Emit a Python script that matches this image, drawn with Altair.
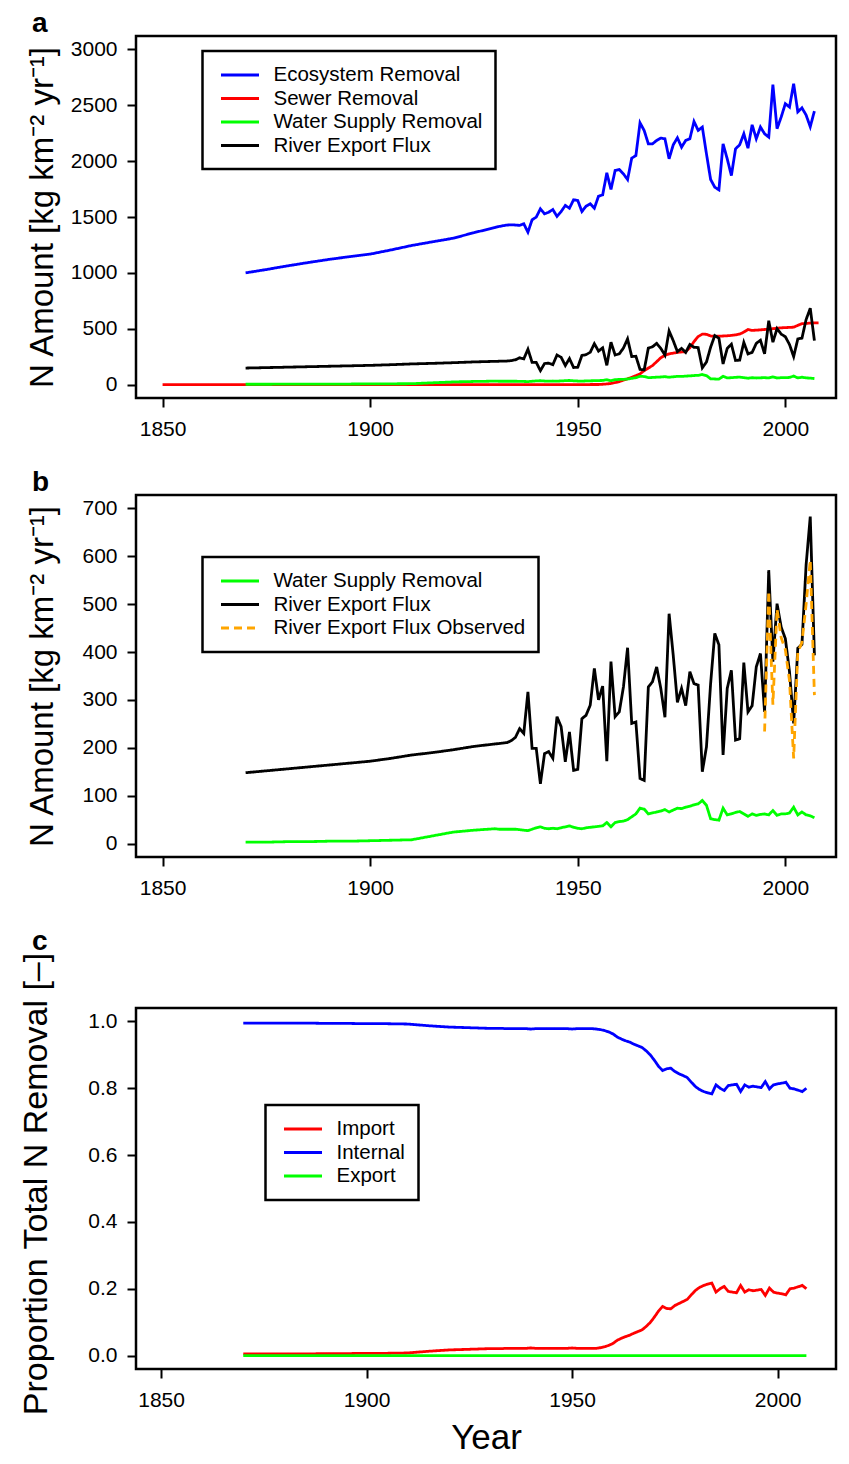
import altair as alt
import pandas as pd

# ---------------- data ----------------
early_years = [1870, 1875, 1880, 1885, 1890, 1895, 1900, 1905, 1910, 1915, 1920, 1925, 1930]
annual_years = list(range(1931, 2008))
yrs = early_years + annual_years

eco_removal = [1000, 1030, 1062, 1092, 1120, 1145, 1168, 1205, 1245, 1278, 1310, 1360, 1405,
               1415, 1422, 1428, 1430, 1428, 1425, 1439, 1364, 1475, 1499,
               1573, 1528, 1543, 1567, 1505, 1549, 1603, 1579, 1654, 1648,
               1549, 1597, 1618, 1579, 1686, 1698, 1895, 1746, 1916, 1925,
               1886, 1835, 2027, 2050, 2343, 2274, 2155, 2155, 2185, 2206,
               2200, 2021, 2146, 2209, 2125, 2185, 2200, 2355, 2275, 2305,
               2065, 1836, 1767, 1743, 2155, 2021, 1871, 2110, 2146, 2245,
               2116, 2325, 2200, 2305, 2245, 2215, 2684, 2290, 2395, 2514,
               2484, 2693, 2441, 2477, 2412, 2308, 2448]

river_export = [148, 152, 156, 160, 164, 168, 172, 178, 185, 190, 196, 203, 208,
                209, 210, 211, 215, 222, 240, 230, 317, 199, 199,
                125, 188, 192, 178, 265, 244, 171, 233, 153, 155,
                261, 268, 289, 366, 300, 329, 172, 380, 265, 275,
                327, 409, 251, 254, 136, 132, 327, 338, 369, 324,
                264, 480, 393, 295, 324, 288, 359, 334, 331, 150,
                202, 334, 439, 415, 185, 324, 362, 216, 219, 378,
                275, 288, 369, 397, 275, 571, 380, 501, 452, 428,
                359, 251, 408, 416, 582, 683, 393]

water_supply = [3, 3, 4, 4, 5, 5, 6, 7, 8, 16, 24, 28, 31,
                30, 30, 30, 30, 30, 29, 28, 27, 30, 33,
                35, 32, 31, 32, 31, 33, 35, 37, 34, 32,
                31, 33, 34, 35, 36, 37, 44, 35, 44, 46,
                47, 50, 56, 62, 74, 72, 62, 64, 66, 68,
                71, 66, 70, 74, 73, 76, 78, 81, 83, 90,
                80, 52, 50, 49, 74, 60, 62, 65, 67, 62,
                57, 62, 59, 61, 62, 60, 69, 59, 62, 62,
                64, 76, 60, 66, 60, 58, 54]

sewer_years = [1850, 1900, 1950, 1955] + list(range(1956, 2009))
sewer_removal = [0, 0, 0, 1, 3, 6, 10, 18, 27, 40, 52, 65, 80, 96,
                 125, 148, 170, 205, 240, 262, 275, 282, 288, 292,
                 295, 330, 385, 430, 452, 450, 435, 432, 433, 435,
                 437, 440, 445, 452, 470, 493, 485, 487, 490, 493,
                 497, 500, 505, 508, 510, 512, 514, 530, 545, 548,
                 550, 552, 553]

obs_years = list(range(1995, 2008))
river_observed = [234, 527, 290, 490, 430, 405, 340, 178, 400, 420, 500, 592, 310]

internal_frac = [0.995, 0.995, 0.995, 0.995, 0.994, 0.994, 0.993, 0.993, 0.992, 0.987, 0.983, 0.981, 0.979,
                 0.979, 0.979, 0.979, 0.978, 0.978, 0.978, 0.978, 0.978, 0.978, 0.977,
                 0.978, 0.978, 0.978, 0.978, 0.978, 0.978, 0.978, 0.978, 0.978, 0.977,
                 0.978, 0.978, 0.978, 0.978, 0.978, 0.977, 0.975, 0.972, 0.968, 0.962,
                 0.953, 0.947, 0.942, 0.938, 0.932, 0.927, 0.922, 0.912, 0.900, 0.884,
                 0.866, 0.853, 0.858, 0.860, 0.850, 0.843, 0.838, 0.832, 0.818, 0.805,
                 0.796, 0.790, 0.786, 0.783, 0.810, 0.800, 0.793, 0.808, 0.810, 0.812,
                 0.790, 0.810, 0.803, 0.806, 0.804, 0.802, 0.820, 0.798, 0.810, 0.813,
                 0.815, 0.818, 0.800, 0.798, 0.794, 0.790, 0.800]

import_frac = [0.005, 0.005, 0.005, 0.005, 0.006, 0.006, 0.007, 0.007, 0.008, 0.013, 0.017, 0.019, 0.021,
               0.021, 0.021, 0.021, 0.022, 0.022, 0.022, 0.022, 0.022, 0.022, 0.023,
               0.022, 0.022, 0.022, 0.022, 0.022, 0.022, 0.022, 0.022, 0.022, 0.023,
               0.022, 0.022, 0.022, 0.022, 0.022, 0.022, 0.024, 0.027, 0.031, 0.037,
               0.046, 0.052, 0.057, 0.061, 0.067, 0.072, 0.077, 0.087, 0.099, 0.115,
               0.133, 0.147, 0.141, 0.140, 0.150, 0.156, 0.162, 0.168, 0.182, 0.195,
               0.204, 0.210, 0.214, 0.217, 0.190, 0.200, 0.207, 0.192, 0.190, 0.188,
               0.210, 0.190, 0.197, 0.194, 0.196, 0.198, 0.180, 0.202, 0.190, 0.187,
               0.185, 0.182, 0.200, 0.202, 0.206, 0.210, 0.200]

export_years = [1870, 2007]
export_frac = [0.0, 0.0]

# ---------------- tables ----------------
def long(series, years, values):
    return pd.DataFrame({"year": years, "value": values, "series": series})

df_a = pd.concat([
    long("Ecosystem Removal", yrs, eco_removal),
    long("Sewer Removal", sewer_years, sewer_removal),
    long("Water Supply Removal", yrs, water_supply),
    long("River Export Flux", yrs, river_export),
])
df_b = pd.concat([
    long("Water Supply Removal", yrs, water_supply),
    long("River Export Flux", yrs, river_export),
    long("River Export Flux Observed", obs_years, river_observed),
])
df_c = pd.concat([
    long("Import", yrs, import_frac),
    long("Internal", yrs, internal_frac),
    long("Export", export_years, export_frac),
])

FONT = "Liberation Sans"
SOLID = [1, 0]


def panel(df, order, colors, dashes, xdom, ydom, yvals, yfmt, ytitle, ytitle_size,
          letter, lx, ly, height, title_offset, ytitle_x, ytitle_y, xtitle=None):
    cscale = alt.Scale(domain=order, range=colors)
    dscale = alt.Scale(domain=order, range=dashes)
    leg = alt.Legend(title=None, orient="none", legendX=lx, legendY=ly)
    if xtitle:
        xaxis = alt.Axis(values=[1850, 1900, 1950, 2000], format="d", labelPadding=11,
                         title=xtitle, titlePadding=10, titleFontSize=35)
    else:
        xaxis = alt.Axis(values=[1850, 1900, 1950, 2000], format="d", labelPadding=11,
                         title=None)
    yaxis = alt.Axis(values=yvals, format=yfmt, labelPadding=10, title=ytitle,
                     titleFontSize=ytitle_size,
                     titleX=ytitle_x, titleY=ytitle_y, titleBaseline="alphabetic",
                     titleAngle=270, titleAlign="center")
    layers = []
    for s in order:
        layers.append(
            alt.Chart(df)
            .transform_filter(alt.datum.series == s)
            .mark_line(strokeWidth=2.8)
            .encode(
                x=alt.X("year:Q", scale=alt.Scale(domain=xdom, nice=False, zero=False), axis=xaxis),
                y=alt.Y("value:Q", scale=alt.Scale(domain=ydom, nice=False, zero=False), axis=yaxis),
                color=alt.Color("series:N", scale=cscale, legend=leg),
                strokeDash=alt.StrokeDash("series:N", scale=dscale, legend=leg),
                order=alt.Order("year:Q"),
            )
        )
    return alt.layer(*layers).properties(
        width=700, height=height,
        title=alt.TitleParams(letter, anchor="start", frame="group", dx=-104, offset=title_offset,
                              baseline="alphabetic", fontSize=28, fontWeight="bold", font=FONT),
    )


a = panel(df_a,
          ["Ecosystem Removal", "Sewer Removal", "Water Supply Removal", "River Export Flux"],
          ["#0000ff", "#ff0000", "#00ff00", "#000000"], [SOLID, SOLID, SOLID, SOLID],
          [1843.6, 2012.2], [-120, 3120], [0, 500, 1000, 1500, 2000, 2500, 3000], "d",
          "N Amount [kg km\u207b\u00b2 yr\u207b\u00b9]", 33, "a", 66.5, 15, 362, -24, -84, 181)

b = panel(df_b,
          ["Water Supply Removal", "River Export Flux", "River Export Flux Observed"],
          ["#00ff00", "#000000", "#ffa500"], [SOLID, SOLID, [8, 5]],
          [1843.6, 2012.2], [-28, 728], [0, 100, 200, 300, 400, 500, 600, 700], "d",
          "N Amount [kg km\u207b\u00b2 yr\u207b\u00b9]", 33, "b", 66.5, 62, 362, -24, -84, 181)

c = panel(df_c,
          ["Import", "Internal", "Export"],
          ["#ff0000", "#0000ff", "#00ff00"], [SOLID, SOLID, SOLID],
          [1843.9, 2014.2], [-0.04, 1.04], [0.0, 0.2, 0.4, 0.6, 0.8, 1.0], ".1f",
          "Proportion Total N Removal [\u2013]", 34, "c", 129.5, 97, 361, -26, -90, 175.5,
          xtitle="Year")

chart = (
    alt.vconcat(a, b, c, spacing=26)
    .resolve_scale(color="independent", strokeDash="independent")
    .resolve_legend(color="independent", strokeDash="independent")
    .properties(padding={"left": 9, "top": 0, "right": 0, "bottom": 0})
    .configure_axis(labelFont=FONT, labelFontSize=21, labelColor="black",
                    tickColor="black", tickSize=9, tickWidth=2, domain=False, grid=False,
                    titleFont=FONT, titleFontSize=33, titleFontWeight="normal", titleColor="black")
    .configure_view(stroke="black", strokeWidth=2.5)
    .configure_legend(labelFont=FONT, labelFontSize=20.5, labelColor="black", labelLimit=0,
                      symbolType="M-1,0L3,0", symbolSize=361, symbolStrokeWidth=2.8,
                      symbolOffset=4, labelOffset=32, padding=13, rowPadding=1.5,
                      strokeColor="black", fillColor="white", strokeWidth=2.5, cornerRadius=0)
    .configure_title(font=FONT, color="black")
)

chart.save("out.html", embed_options={"renderer": "svg", "actions": False})
